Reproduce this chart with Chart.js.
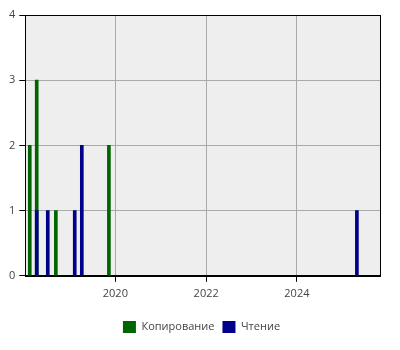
<!DOCTYPE html>
<html lang="ru">
<head>
  <meta charset="UTF-8">
  <title>Копирование / Чтение</title>
  <script src="https://cdn.jsdelivr.net/npm/chart.js@4"></script>
  <style>
    body { margin: 0; background: #fff; }
    #wrap { width: 400px; height: 350px; }
  </style>
</head>
<body>
  <div id="wrap"><canvas id="chart"></canvas></div>
  <script>
    // dates (approximate)
    const copyDates = ['2018-02-11', '2018-04-08', '2018-09-09', '2019-11-10'];
    const copyValues = [2, 3, 1, 2];
    const readDates = ['2018-04-08', '2018-07-06', '2019-02-08', '2019-04-06', '2025-04-28'];
    const readValues = [1, 1, 1, 2, 1];
    const tickYears = [2020, 2022, 2024];
    const axisStart = '2018-01-06';
    const axisEnd = '2025-10-31';

    const toPoints = (dates, values) => dates.map((d, i) => ({ x: Date.parse(d), y: values[i] }));

    const areaPlugin = {
      id: 'area',
      afterLayout(chart) {
        // legend sits a bit right of centre in the original
        chart.legend.left += 9;
        chart.legend.right += 9;
      },
      beforeDraw(chart) {
        const a = chart.chartArea, ctx = chart.ctx;
        ctx.save();
        ctx.fillStyle = '#eeeeee';
        ctx.fillRect(a.left, a.top, a.right - a.left, a.bottom - a.top);
        ctx.restore();
      },
      afterDraw(chart) {
        const a = chart.chartArea, ctx = chart.ctx;
        ctx.save();
        ctx.strokeStyle = '#000';
        ctx.lineWidth = 1;
        ctx.strokeRect(Math.round(a.left) + 0.5, Math.round(a.top) + 0.5,
          Math.round(a.right - a.left), Math.round(a.bottom - a.top));
        ctx.restore();
      }
    };

    Chart.defaults.font.family = '"Open Sans", sans-serif';
    Chart.defaults.font.size = 11;
    Chart.defaults.color = '#444';

    new Chart(document.getElementById('chart'), {
      type: 'bar',
      data: {
        datasets: [{
          label: 'Копирование',
          data: toPoints(copyDates, copyValues),
          backgroundColor: '#006400',
          order: 1
        }, {
          label: 'Чтение',
          data: toPoints(readDates, readValues),
          backgroundColor: '#00008b',
          order: 0
        }]
      },
      options: {
        responsive: true,
        maintainAspectRatio: false,
        animation: false,
        grouped: false,
        barThickness: 3,
        layout: { padding: { top: 15, right: 20, left: 5, bottom: 7 } },
        scales: {
          x: {
            type: 'linear',
            offset: false,
            min: Date.parse(axisStart),
            max: Date.parse(axisEnd),
            afterBuildTicks(scale) {
              scale.ticks = tickYears.map(y => ({ value: Date.UTC(y, 0, 1) }));
            },
            afterFit(scale) {
              scale.height += 8;
            },
            ticks: {
              callback: (v) => new Date(v).getUTCFullYear(),
              maxRotation: 0,
              padding: 5
            },
            grid: { offset: false, color: '#aaa', tickColor: '#000', tickLength: 6 },
            border: { color: '#000' }
          },
          y: {
            min: 0,
            max: 4,
            ticks: { stepSize: 1, padding: 4 },
            grid: { color: '#aaa', tickColor: '#000', tickLength: 6 },
            border: { color: '#000' }
          }
        },
        plugins: {
          legend: {
            position: 'bottom',
            labels: {
              boxWidth: 13,
              boxHeight: 12,
              padding: 8,
              sort: (a, b) => a.datasetIndex - b.datasetIndex
            }
          },
          tooltip: { enabled: false }
        }
      },
      plugins: [areaPlugin]
    });
  </script>
</body>
</html>
